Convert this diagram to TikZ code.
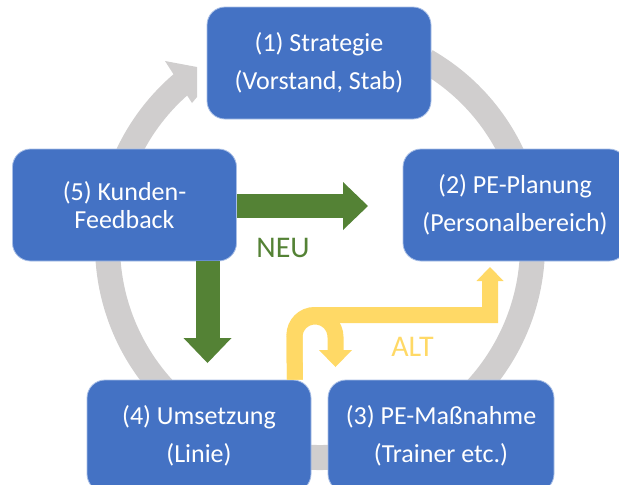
\documentclass[tikz,border=0pt]{standalone}
\usepackage{fontspec}
\setmainfont{Carlito}
\usetikzlibrary{arrows.meta,calc}
\definecolor{boxblue}{HTML}{4472C4}
\definecolor{boxedge}{HTML}{A9BFE6}
\definecolor{neugreen}{HTML}{548235}
\definecolor{altyellow}{HTML}{FFD966}
\definecolor{ringgray}{HTML}{D0CECE}
\begin{document}
\begin{tikzpicture}[x=1pt,y=1pt,
  stage/.style={draw=boxedge, line width=0.8pt, fill=boxblue, rounded corners=18pt,
    minimum width=224pt, minimum height=112pt, text=white, align=center,
    font=\fontsize{26}{38}\selectfont, inner sep=0pt},
  neuarrow/.style={draw=neugreen, line width=24pt,
    -{Triangle[width=48pt,length=25pt,line width=0pt]}},
  altarrow/.style={draw=altyellow, line width=16pt},
  tag/.style={font=\fontsize{30}{34}\selectfont, inner sep=0pt}
]
\useasboundingbox (0,0) rectangle (619,-485);
\clip (0,0) rectangle (619,-485);

% grey cycle ring running clockwise behind the stages
\coordinate (hub) at (320,-245);
\draw[ringgray, line width=25pt]
  ($(hub)+(60:212.5)$) arc[start angle=60, end angle=-230, radius=212.5];
% its head, cut off just before stage 1
\fill[ringgray] (165,-61) -- (197,-67) -- (197,-97) -- (192,-103) -- cycle;

% stages
\node[stage] (s1) at (319,-63) {(1) Strategie\\(Vorstand, Stab)};
\node[stage] (s2) at (515,-205) {(2) PE-Planung\\(Personalbereich)};
\node[stage, minimum width=226pt] (s3) at (441,-436) {(3) PE-Maßnahme\\(Trainer etc.)};
\node[stage] (s4) at (199,-436) {(4) Umsetzung\\(Linie)};
\node[stage, font=\fontsize{26}{28}\selectfont] (s5) at (124.5,-205) {(5) Kunden-\\Feedback};

% new route (green)
\coordinate (neuH) at (368,-206);
\coordinate (neuV) at (207.5,-363);
\draw[neuarrow] (s5.east |- neuH) -- (neuH);
\draw[neuarrow] (neuV |- s5.south) -- (neuV);
\node[tag, text=neugreen] (neu) at (283,-248) {NEU};

% old route (yellow)
\coordinate (altFoot) at ($(s4.north east)+(-16.5,0)$);
\coordinate (altH) at (490,-267);
\coordinate (altU) at (335.5,-367);
\draw[altarrow, -{Triangle[width=27pt,length=14pt,line width=0pt]}]
  (altFoot) -- (294.5,-335) arc[start angle=180, end angle=90, radius=20]
  -- (490,-315) -- (altH);
\draw[altarrow, -{Triangle[width=33pt,length=17pt,line width=0pt]}]
  (altFoot) -- (294.5,-337) arc[start angle=180, end angle=0, radius=20.5] -- (altU);
\node[tag, text=altyellow] (alt) at (412.5,-347) {ALT};
\end{tikzpicture}
\end{document}
